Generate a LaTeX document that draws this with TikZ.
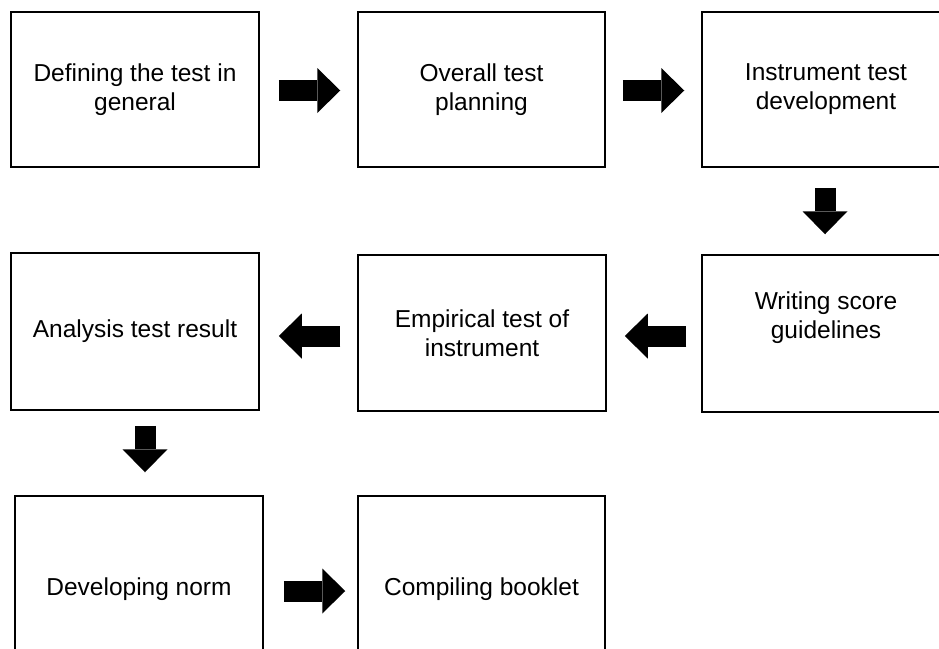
\documentclass[tikz,border=0pt]{standalone}
\usepackage{fontspec}
\setmainfont{Liberation Sans}
\usetikzlibrary{arrows.meta,calc}
\begin{document}
\begin{tikzpicture}[x=1pt,y=-1pt,
  box/.style={draw=black,line width=1.5pt,minimum width=248pt,minimum height=155pt,
    inner sep=0pt,align=center,font=\fontsize{24.5}{29}\selectfont},
  lbl/.style={inner sep=0pt,align=center,font=\fontsize{24.5}{29}\selectfont},
  blockarrow/.style={line width=21pt,-{Triangle[length=23pt,width=45pt,line width=0pt]}}]
\useasboundingbox (0,0) rectangle (939,648);
\node[box] (b1) at (135,89.5) {Defining the test in\\general};
\node[box,minimum width=247pt] (b2) at (481.5,89.5) {Overall test\\planning};
\node[box] (b3) at (826,89.5) {Instrument test\\development};
\node[box,minimum height=157pt] (b4) at (135,331.5) {Analysis test result};
\node[box,minimum height=156pt] (b5) at (482,333) {Empirical test of\\instrument};
\node[box,minimum height=157pt] (b6) at (826,333.5) {};
\node[lbl] (t6) at (826,318) {Writing score\\guidelines};
\node[box,minimum height=186pt] (b7) at (139,589) {Developing norm};
\node[box,minimum width=247pt,minimum height=186pt] (b8) at (481.5,589) {Compiling booklet};
\draw[blockarrow] ([xshift=19pt,yshift=-1pt]b1.east) -- ([xshift=-17pt,yshift=-1pt]b2.west);
\draw[blockarrow] ([xshift=17pt,yshift=-1pt]b2.east) -- ([xshift=-17pt,yshift=-1pt]b3.west);
\draw[blockarrow] ([yshift=-20pt,xshift=-1pt]b3.south) -- ([yshift=20pt,xshift=-1pt]b6.north);
\draw[blockarrow] ([xshift=-15pt,yshift=-2.5pt]b6.west) -- ([xshift=18pt,yshift=-3pt]b5.east);
\draw[blockarrow] ([xshift=-17pt,yshift=-3pt]b5.west) -- ([xshift=19pt,yshift=-4.5pt]b4.east);
\draw[blockarrow] ([yshift=-15pt,xshift=10pt]b4.south) -- ([yshift=23pt,xshift=6pt]b7.north);
\draw[blockarrow] ([xshift=20pt,yshift=-2pt]b7.east) -- ([xshift=-12pt,yshift=-2pt]b8.west);
\end{tikzpicture}
\end{document}
